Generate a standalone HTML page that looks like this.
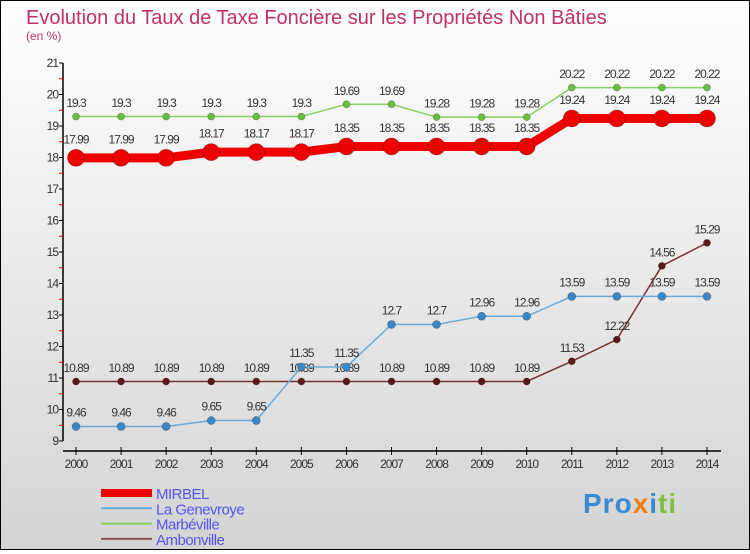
<!DOCTYPE html>
<html><head><meta charset="utf-8"><style>
html,body{margin:0;padding:0}
body{width:750px;height:550px;overflow:hidden;font-family:"Liberation Sans",sans-serif}
#wrap{position:relative;width:748px;height:548px;border:1px solid #000;background:linear-gradient(#ffffff,#d4d4d4)}
</style></head><body>
<div id="wrap">
<svg id="chart" width="748" height="548" xmlns="http://www.w3.org/2000/svg">
<text x="25" y="23" font-size="20" fill="#c0306a">Evolution du Taux de Taxe Foncière sur les Propriétés Non Bâties</text>
<text x="25" y="39" font-size="12" fill="#c0306a">(en %)</text>
<g id="axes"></g><g id="series"></g><g id="legend"></g>
</svg></div>
<script>
const years=[2000,2001,2002,2003,2004,2005,2006,2007,2008,2009,2010,2011,2012,2013,2014];
const yTicks=[9,10,11,12,13,14,15,16,17,18,19,20,21];
const mirbel=[17.99,17.99,17.99,18.17,18.17,18.17,18.35,18.35,18.35,18.35,18.35,19.24,19.24,19.24,19.24];
const genevroye=[9.46,9.46,9.46,9.65,9.65,11.35,11.35,12.7,12.7,12.96,12.96,13.59,13.59,13.59,13.59];
const marbeville=[19.3,19.3,19.3,19.3,19.3,19.3,19.69,19.69,19.28,19.28,19.28,20.22,20.22,20.22,20.22];
const ambonville=[10.89,10.89,10.89,10.89,10.89,10.89,10.89,10.89,10.89,10.89,10.89,11.53,12.22,14.56,15.29];
const names=["MIRBEL","La Genevroye","Marbéville","Ambonville"];
const NS="http://www.w3.org/2000/svg";
const x=i=>75+i*45.07;
const y=v=>440-(v-9)*31.5;
function mk(tag,attrs,parent){const e=document.createElementNS(NS,tag);for(const k in attrs)e.setAttribute(k,attrs[k]);parent.appendChild(e);return e;}
const ax=document.getElementById('axes');
let a=mk('line',{x1:62,y1:y(21),x2:62,y2:y(9),stroke:'#000','stroke-width':1.5},ax);


yTicks.forEach(t=>{
 mk('line',{x1:58,y1:y(t),x2:62,y2:y(t),stroke:'#000'},ax);
 if(t<21)mk('line',{x1:58,y1:y(t+0.5),x2:62,y2:y(t+0.5),stroke:'#e00'},ax);
 const tx=mk('text',{x:57,y:y(t)+4,'font-size':12,'text-anchor':'end',fill:'#333','letter-spacing':'-1'},ax);tx.textContent=t;
 
 
});
a=mk('line',{x1:62,y1:450,x2:720,y2:450,stroke:'#000','stroke-width':1.5},ax);


years.forEach((yr,i)=>{
 mk('line',{x1:x(i),y1:446,x2:x(i),y2:454,stroke:'#000'},ax);
 const tx=mk('text',{x:x(i),y:467,'font-size':12,'text-anchor':'middle',fill:'#333','letter-spacing':'-1'},ax);tx.textContent=yr;
 
 
});
const sg=document.getElementById('series');
const defs=[[marbeville,'#88d060','#66c040',1.5,3.5],[ambonville,'#7a3030','#5a1818',1.5,3.5],[genevroye,'#6aaad8','#3a88c8',1.5,4],[mirbel,'#ee0000','#ee0000',9,8.5]];
const order=[2,3,1,0];
defs.forEach((d,k)=>{
 const [vals,lc,mc,w,r]=d;
 const g=mk('g',{},sg);
 
 
 const pl=mk('polyline',{points:vals.map((v,i)=>x(i)+','+y(v)).join(' '),fill:'none',stroke:lc,'stroke-width':w},g);
 
 
 vals.forEach((v,i)=>{
  const c=mk('circle',{cx:x(i),cy:y(v),r:r,fill:mc,stroke:'rgba(0,0,0,0.3)','stroke-width':0.7},g);
  
  
  const t=mk('text',{x:x(i),y:y(v)-(r+6),'font-size':12,'text-anchor':'middle',fill:'#333','letter-spacing':'-1'},g);
  t.textContent=v;
  
  
 });
});
const lg=document.getElementById('legend');
const lcol=['#ee0000','#6aaad8','#88d060','#8a5050'];const lw=[8,2,2,2];
names.forEach((n,i)=>{
 const g=mk('g',{},lg);
 
 
 const ly=492+i*15.3;
 mk('line',{x1:100,y1:ly,x2:151,y2:ly,stroke:lcol[i],'stroke-width':lw[i]},g);
 const t=mk('text',{x:155,y:ly+6,'font-size':15,fill:'#5555ee','letter-spacing':'-0.5'},g);t.textContent=n;
});
</script>
<div style="position:absolute;left:583px;top:488px;font:bold 28px 'Liberation Sans',sans-serif;letter-spacing:1px"><span style="color:#3a8ad0">Pro</span><span style="color:#f08010">x</span><span style="color:#3a8ad0">i</span><span style="color:#80c040">ti</span></div>
</body></html>
